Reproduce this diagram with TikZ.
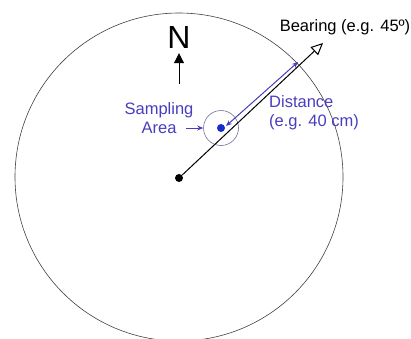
\documentclass[tikz,border=0pt]{standalone}
\usepackage{fontspec}
\setmainfont{Liberation Sans}
\usepackage{tikz}
\usetikzlibrary{arrows.meta, positioning}
\usepackage{xcolor}
\definecolor{labelblue}{RGB}{72,62,190}
\definecolor{dotblue}{RGB}{25,45,205}
\definecolor{ringgrey}{RGB}{115,112,150}

\begin{document}
\begin{tikzpicture}[x=1pt, y=-1pt,
    txt/.style={font=\fontsize{16.5}{19}\selectfont, inner sep=0pt},
    bluetxt/.style={txt, text=labelblue},
    dot/.style={circle, fill=black, inner sep=0pt, minimum size=8pt},
    sampledot/.style={circle, fill=dotblue, inner sep=0pt, minimum size=8pt},
    ring/.style={circle, draw=ringgrey, line width=0.6pt, inner sep=0pt, minimum size=35pt}]
  \useasboundingbox (0,0) rectangle (411,338);

  % plot boundary
  \draw[black!75, line width=0.6pt] (179,177) circle (164);

  % centre and sampling area
  \node[dot] (centre) at (179,178) {};
  \node[ring] (area) at (221,128) {};
  \node[sampledot] (sample) at (221,128) {};

  % bearing
  \coordinate (btip) at (323,43);
  \draw[line width=1pt, -{Triangle[open, length=12pt, width=11pt]}] (centre) -- (btip);
  \node[txt] (bearing) at (345,27) {Bearing (e.g. 45º)};

  % distance
  \coordinate (dtop) at (298,62);
  \coordinate (dbot) at (226,126);
  \draw[labelblue, line width=1pt, {Stealth[length=6pt, width=5pt]}-{Stealth[length=6pt, width=5pt]}] (dbot) -- (dtop);
  \node[bluetxt, anchor=north west, align=left] (distance) at (269,95) {Distance\\(e.g. 40 cm)};

  % sampling area label
  \node[bluetxt, align=center] (sampling) at (159,118) {Sampling\\Area};
  \coordinate (atail) at (186,128);
  \draw[labelblue, line width=1pt, -{Stealth[length=6pt, width=5pt]}] (atail) -- (area.west);

  % north
  \node[font=\fontsize{32}{32}\selectfont, inner sep=0pt] (north) at (179,37) {N};
  \coordinate (ntail) at (179,84);
  \draw[line width=1pt, -{Triangle[length=10pt, width=10pt]}, shorten >=5pt] (ntail) -- (north.south);
\end{tikzpicture}
\end{document}
